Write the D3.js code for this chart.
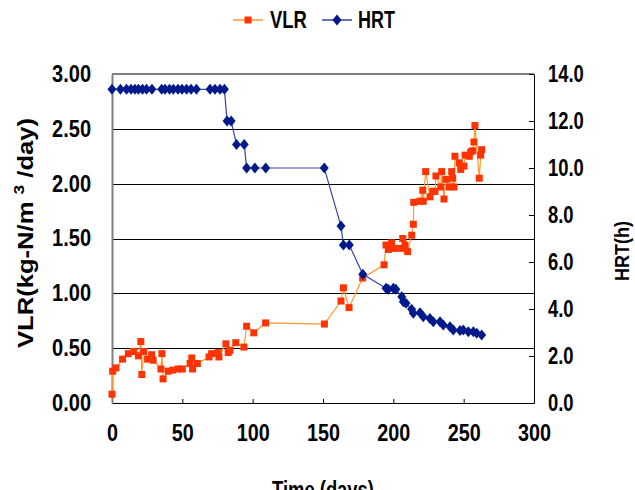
<!DOCTYPE html>
<html>
<head>
<meta charset="utf-8">
<script src="https://cdn.jsdelivr.net/npm/d3@7"></script>
<style>
    body { margin: 0; background: #fff; }
    svg text { font-family: "Liberation Sans", Arial, sans-serif; font-weight: bold; fill: #000; }
</style>
</head>
<body>
<div class="canvas"></div>
<script>
//Data (days, VLR in kg-N/m3/day, HRT in h)
const vlrDays = [0, 0.5, 2.8, 7.5, 11.6, 15.5, 18.8, 20.5, 21.2, 22.5, 25.3, 28.2, 29.2, 34.8, 35.5, 36.3, 40, 43.2, 47, 50,
    55.5, 56.7, 57.3, 60.7, 69, 70.8, 75.5, 76, 81, 82.6, 83.8, 88, 93.8, 95.7, 100.8, 109.2, 151, 162.8, 164.5, 168.5,
    178.2, 193.4, 194.8, 196.5, 198.8, 201.2, 206, 206.7, 208.3, 210.2, 213.1, 214.2, 214.5, 219, 220.9, 221.3, 223, 226.1,
    228, 229.6, 230.3, 233.7, 234.4, 236, 237.4, 239.8, 241.5, 242.2, 243.1, 243.8, 246.9, 247.9, 250.2, 251, 254, 255,
    256.4, 257.3, 258, 261.1, 262.1, 262.8];
const vlrValues = [0.08, 0.29, 0.32, 0.40, 0.45, 0.47, 0.43, 0.56, 0.26, 0.47, 0.40, 0.44, 0.39, 0.31, 0.45, 0.22, 0.29, 0.30, 0.31, 0.31,
    0.36, 0.41, 0.31, 0.36, 0.42, 0.45, 0.46, 0.42, 0.54, 0.46, 0.48, 0.55, 0.51, 0.70, 0.64, 0.73, 0.72, 0.93, 1.05, 0.87,
    1.14, 1.26, 1.44, 1.40, 1.46, 1.41, 1.41, 1.50, 1.44, 1.38, 1.53, 1.63, 1.83, 1.84, 1.94, 1.84, 2.11, 1.88,
    1.93, 1.93, 2.07, 1.97, 2.11, 1.86, 2.04, 1.97, 2.11, 2.05, 1.97, 2.25, 2.19, 2.13, 2.16, 2.26, 2.25, 2.29,
    2.30, 2.38, 2.53, 2.05, 2.26, 2.31];
const hrtDays = [0, 6, 10.3, 13.5, 16.3, 18.8, 21.7, 24.5, 28.4, 35.3, 37.7, 40.9, 43.6, 46.9, 49.8, 53, 56.2, 60, 69.7, 73.2,
    76.8, 79.9, 81.8, 84.7, 88.5, 94, 95.7, 101.6, 109.3, 150.9, 162.8, 164.5, 168.7, 178.3, 194.8, 196.4, 200, 201.8,
    206, 207.1, 209, 213, 214.2, 219, 221.3, 226, 228.4, 233.2, 235.5, 240.3, 242.6, 247.4, 249.7, 253.3, 256.9, 259.3, 262.8];
const hrtValues = [13.35, 13.35, 13.35, 13.35, 13.35, 13.35, 13.35, 13.35, 13.35, 13.35, 13.35, 13.35, 13.35, 13.35, 13.35, 13.35, 13.35, 13.35, 13.35, 13.35,
    13.35, 13.35, 12.0, 12.0, 11.0, 11.0, 10.0, 10.0, 10.0, 10.0, 7.53, 6.72, 6.72, 5.48, 4.88, 4.84, 4.88, 4.84,
    4.52, 4.31, 4.24, 3.99, 3.82, 3.84, 3.67, 3.60, 3.46, 3.46, 3.32, 3.25, 3.11, 3.08, 3.11, 3.03, 3.03, 2.97, 2.89];

const xTicks = [0, 50, 100, 150, 200, 250, 300];
const vlrTicks = [0, 0.5, 1, 1.5, 2, 2.5, 3];
const hrtTicks = [0, 2, 4, 6, 8, 10, 12, 14];

const vlr = vlrDays.map((d, i) => ({ day: d, value: vlrValues[i] }));
const hrt = hrtDays.map((d, i) => ({ day: d, value: hrtValues[i] }));

//Layout
const
    width = 635,
    height = 490,
    plotL = 112,
    plotR = 534,
    plotT = 74,
    plotB = 403;

const vlrColor = '#ff3300', vlrLine = '#ff9933',
    hrtColor = '#001a8c', hrtLine = '#3445a5';

//squeeze text horizontally, the original font is narrow
const condense = (sel, k) => sel.each(function () {
    d3.select(this)
        .attr('textLength', this.getComputedTextLength() * k)
        .attr('lengthAdjust', 'spacingAndGlyphs');
});

const svg = d3.select('.canvas')
    .append('svg')
    .attr('width', width)
    .attr('height', height);

const xScale = d3.scaleLinear().domain([0, 300]).range([plotL, plotR]);
const yLeft = d3.scaleLinear().domain([0, 3]).range([plotB, plotT]);
const yRight = d3.scaleLinear().domain([0, 14]).range([plotB, plotT]);

//Gridlines
svg.append('g')
    .selectAll('line')
    .data(vlrTicks.filter(t => t > 0 && t < 3))
    .enter()
    .append('line')
    .attr('x1', plotL)
    .attr('x2', plotR)
    .attr('y1', d => Math.round(yLeft(d)) + 0.5)
    .attr('y2', d => Math.round(yLeft(d)) + 0.5)
    .attr('stroke', '#000')
    .attr('stroke-width', 1);

//Frame
svg.append('line').attr('x1', plotL).attr('x2', plotR).attr('y1', plotT).attr('y2', plotT)
    .attr('stroke', '#808080').attr('stroke-width', 2);

//X-Axis
svg.append('g')
    .attr('transform', `translate(0, ${plotB})`)
    .call(d3.axisBottom(xScale).tickValues(xTicks).tickFormat(d3.format('d')).tickSize(-4).tickPadding(22).tickSizeOuter(0))
    .call(g => g.select('.domain').attr('stroke', '#000'))
    .call(g => g.selectAll('text').attr('font-size', 23).call(condense, 0.86));

//Left Y-Axis
svg.append('g')
    .attr('transform', `translate(${plotL}, 0)`)
    .call(d3.axisLeft(yLeft).tickValues(vlrTicks).tickFormat(d3.format('.2f')).tickSize(0).tickPadding(21))
    .call(g => g.select('.domain').attr('stroke', '#808080').attr('stroke-width', 2))
    .call(g => g.selectAll('text').attr('font-size', 23).call(condense, 0.87));

//Right Y-Axis
svg.append('g')
    .attr('transform', `translate(${plotR}, 0)`)
    .call(d3.axisRight(yRight).tickValues(hrtTicks).tickFormat(d3.format('.1f')).tickSize(-5).tickPadding(14).tickSizeOuter(0))
    .call(g => g.select('.domain').attr('stroke', '#000'))
    .call(g => g.selectAll('text').attr('font-size', 23).call(condense, 0.8));

svg.selectAll('.tick line').attr('stroke', '#000');

//Axis titles
const vlrTitle = svg.append('text')
    .attr('transform', `translate(33, 233) rotate(-90)`)
    .attr('text-anchor', 'middle')
    .attr('font-size', 22)
    .call(t => {
        t.append('tspan').text('VLR(kg-N/m ');
        t.append('tspan').attr('font-size', 15).attr('dy', -9).text('3');
        t.append('tspan').attr('dy', 9).text(' /day)');
    });
vlrTitle.attr('textLength', 230).attr('lengthAdjust', 'spacingAndGlyphs');

svg.append('text')
    .attr('transform', `translate(629, 251) rotate(-90)`)
    .attr('text-anchor', 'middle')
    .attr('font-size', 21)
    .text('HRT(h)')
    .attr('textLength', 60)
    .attr('lengthAdjust', 'spacingAndGlyphs');

svg.append('text')
    .attr('x', 323)
    .attr('y', 498)
    .attr('text-anchor', 'middle')
    .attr('font-size', 23)
    .text('Time (days)')
    .call(condense, 0.8);

//VLR series
svg.append('path')
    .datum(vlr)
    .attr('fill', 'none')
    .attr('stroke', vlrLine)
    .attr('stroke-width', 1.2)
    .attr('d', d3.line().x(d => xScale(d.day)).y(d => yLeft(d.value)));

svg.append('g')
    .selectAll('rect')
    .data(vlr)
    .enter()
    .append('rect')
    .attr('x', d => xScale(d.day) - 3.5)
    .attr('y', d => yLeft(d.value) - 3.5)
    .attr('width', 7)
    .attr('height', 7)
    .attr('fill', vlrColor);

//HRT series
const diamond = 'M0,-5.5L4.5,0L0,5.5L-4.5,0Z';

svg.append('path')
    .datum(hrt)
    .attr('fill', 'none')
    .attr('stroke', hrtLine)
    .attr('stroke-width', 1.2)
    .attr('d', d3.line().x(d => xScale(d.day)).y(d => yRight(d.value)));

svg.append('g')
    .selectAll('path')
    .data(hrt)
    .enter()
    .append('path')
    .attr('d', diamond)
    .attr('transform', d => `translate(${xScale(d.day)}, ${yRight(d.value)})`)
    .attr('fill', hrtColor);

//Legend
const legend = svg.append('g').attr('transform', 'translate(0, 20)');
legend.append('line').attr('x1', 233).attr('x2', 263).attr('stroke', vlrLine).attr('stroke-width', 1.5);
legend.append('rect').attr('x', 244.5).attr('y', -3.5).attr('width', 7).attr('height', 7).attr('fill', vlrColor);
legend.append('text').attr('x', 270).attr('y', 8).attr('font-size', 23).text('VLR').call(condense, 0.8);
legend.append('line').attr('x1', 322).attr('x2', 352).attr('stroke', hrtLine).attr('stroke-width', 1.5);
legend.append('path').attr('d', diamond).attr('transform', 'translate(337, 0)').attr('fill', hrtColor);
legend.append('text').attr('x', 358).attr('y', 8).attr('font-size', 23).text('HRT').call(condense, 0.78);
</script>
</body>
</html>
